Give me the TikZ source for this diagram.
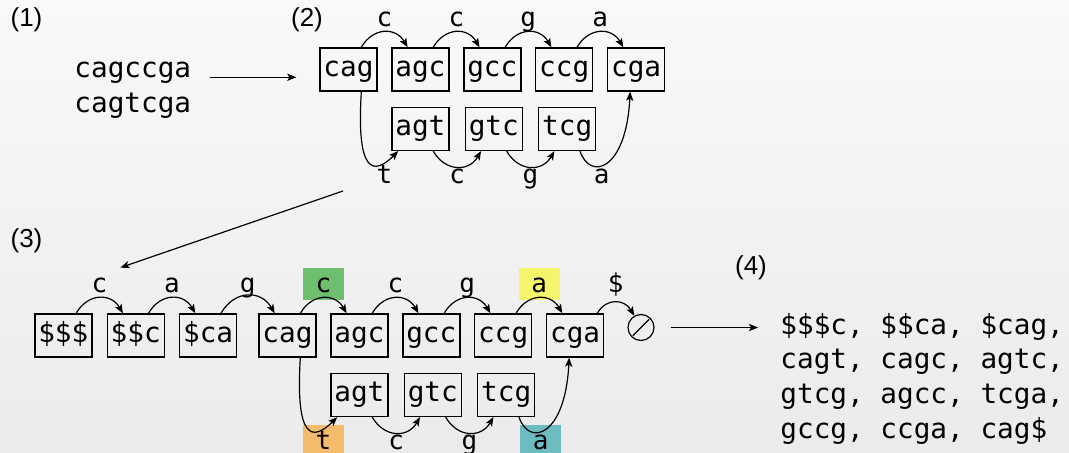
\documentclass[tikz,border=0pt]{standalone}
\usepackage{fontspec}
\setmainfont{Liberation Sans}
\setmonofont{DejaVu Sans Mono}
\usetikzlibrary{positioning,calc,arrows.meta}

\definecolor{bgtop}{HTML}{F9F9F9}
\definecolor{bgbot}{HTML}{EBEBEB}
\definecolor{hlgreen}{HTML}{6DBF6D}
\definecolor{hlyellow}{HTML}{F5F56C}
\definecolor{hlorange}{HTML}{F5BB6C}
\definecolor{hlteal}{HTML}{6CBCC2}

\newcommand{\kmerfont}{\ttfamily\fontsize{13.85pt}{17.4pt}\selectfont}
\newcommand{\edgefont}{\ttfamily\fontsize{13pt}{15pt}\selectfont}
\newcommand{\stepfont}{\fontsize{13pt}{15pt}\selectfont}

\begin{document}
\begin{tikzpicture}[
		x=0.5pt, y=0.5pt,
		kmer/.style={draw, line width=0.7pt, rectangle, minimum width=28.5pt, minimum height=21.5pt, inner sep=0pt, font=\kmerfont, text height=10.4pt, text depth=3.45pt},
		lbl/.style={minimum width=20.5pt, minimum height=16pt, inner sep=0pt, font=\edgefont, text height=11pt, text depth=2pt},
		seq/.style={font=\kmerfont, align=left, inner sep=0pt},
		tag/.style={font=\stepfont, inner sep=0pt},
		edge/.style={-{Stealth[length=4.5pt, width=3.6pt, inset=1pt]}, line width=0.6pt},
		arcup/.style={out=60, in=120, looseness=1.3},
		arcdown/.style={out=-60, in=-120, looseness=1.3},
	]
	\useasboundingbox (0,0) rectangle (1069,-453);
	\fill[top color=bgtop, bottom color=bgbot] (0,0) rectangle (1069,-453);

	\node[tag] (step1) at (26.5,-20) {(1)};
	\node[tag] (step2) at (307,-20) {(2)};
	\node[tag] (step3) at (26.5,-240.5) {(3)};
	\node[tag] (step4) at (751,-267.5) {(4)};

	% reads
	\node[seq, anchor=base west] (reads) at (74,-112.3) {cagccga\\cagtcga};

	% graph of the reads
	\node[kmer] (cag2) at (348.5,-69.5) {cag};
	\node[kmer, right=6.75pt of cag2] (agc2) {agc};
	\node[kmer, right=6.75pt of agc2] (gcc2) {gcc};
	\node[kmer, right=6.75pt of gcc2] (ccg2) {ccg};
	\node[kmer, right=6.75pt of ccg2] (cga2) {cga};
	\node[kmer, below=7.5pt of agc2] (agt2) {agt};
	\node[kmer, right=7.5pt of agt2] (gtc2) {gtc};
	\node[kmer, right=7.5pt of gtc2] (tcg2) {tcg};

	\node[lbl] (up2a) at ($(cag2)!.5!(agc2)+(0,51.5)$) {c};
	\node[lbl] (up2b) at ($(agc2)!.5!(gcc2)+(0,51.5)$) {c};
	\node[lbl] (up2c) at ($(gcc2)!.5!(ccg2)+(0,51.5)$) {g};
	\node[lbl] (up2d) at ($(ccg2)!.5!(cga2)+(0,51.5)$) {a};
	\node[lbl] (lo2a) at ($(cag2 |- agt2)!.5!(agt2)+(0,-46)$) {t};
	\node[lbl] (lo2b) at ($(agt2)!.5!(gtc2)+(0,-46)$) {c};
	\node[lbl] (lo2c) at ($(gtc2)!.5!(tcg2)+(0,-46)$) {g};
	\node[lbl] (lo2d) at ($(tcg2)!.5!(cga2 |- tcg2)+(0,-46)$) {a};

	\draw[edge, shorten <=9pt, shorten >=11.5pt] ([yshift=17.5pt]reads.base east) -- ([yshift=17.5pt]reads.base east -| cag2.west);

	\draw[edge] (cag2.60) to[arcup] (agc2.120);
	\draw[edge] (agc2.60) to[arcup] (gcc2.120);
	\draw[edge] (gcc2.60) to[arcup] (ccg2.120);
	\draw[edge] (ccg2.60) to[arcup] (cga2.120);
	\draw[edge] (cag2.-60) .. controls +(-4,-64) and +(-32,-32) .. (agt2.-135);
	\draw[edge] (agt2.-60) to[arcdown] (gtc2.-120);
	\draw[edge] (gtc2.-60) to[arcdown] (tcg2.-120);
	\draw[edge] (tcg2.-60) .. controls +(10,-30) and +(-4,-79) .. (cga2.-105);

	% same graph with the padded start and the end
	\node[kmer] (cag3) at (287.5,-335.5) {cag};
	\node[kmer, right=6.75pt of cag3] (agc3) {agc};
	\node[kmer, right=6.75pt of agc3] (gcc3) {gcc};
	\node[kmer, right=6.75pt of gcc3] (ccg3) {ccg};
	\node[kmer, right=6.75pt of ccg3] (cga3) {cga};
	\node[kmer, below=7.5pt of agc3] (agt3) {agt};
	\node[kmer, right=7.5pt of agt3] (gtc3) {gtc};
	\node[kmer, right=7.5pt of gtc3] (tcg3) {tcg};
	\node[kmer, left=10.5pt of cag3] (dca3) {\$ca};
	\node[kmer, left=7pt of dca3] (ddc3) {\$\$c};
	\node[kmer, left=7pt of ddc3] (ddd3) {\$\$\$};
	\node[draw, circle, line width=0.6pt, minimum size=13pt, inner sep=0pt] (nul) at (641,-327.5) {};
	\draw[line width=0.6pt, shorten <=1pt, shorten >=1pt] (nul.-135) -- (nul.45);

	\node[lbl] (up3a) at ($(ddd3)!.5!(ddc3)+(0,51.5)$) {c};
	\node[lbl] (up3b) at ($(ddc3)!.5!(dca3)+(0,51.5)$) {a};
	\node[lbl] (up3c) at ($(dca3)!.5!(cag3)+(0,51.5)$) {g};
	\node[lbl, fill=hlgreen] (up3d) at ($(cag3)!.5!(agc3)+(0,51.5)$) {c};
	\node[lbl] (up3e) at ($(agc3)!.5!(gcc3)+(0,51.5)$) {c};
	\node[lbl] (up3f) at ($(gcc3)!.5!(ccg3)+(0,51.5)$) {g};
	\node[lbl, fill=hlyellow] (up3g) at ($(ccg3)!.5!(cga3)+(0,51.5)$) {a};
	\node[lbl] (up3h) at ($(cga3.45)!.5!(nul.120)+(0,31)$) {\$};
	\node[lbl, fill=hlorange] (lo3a) at ($(cag3 |- agt3)!.5!(agt3)+(0,-46)$) {t};
	\node[lbl] (lo3b) at ($(agt3)!.5!(gtc3)+(0,-46)$) {c};
	\node[lbl] (lo3c) at ($(gtc3)!.5!(tcg3)+(0,-46)$) {g};
	\node[lbl, fill=hlteal] (lo3d) at ($(tcg3)!.5!(cga3 |- tcg3)+(0,-46)$) {a};

	\coordinate (tail) at (343,-191);
	\draw[edge] (tail) -- (up3a.north east);

	\draw[edge] (ddd3.60) to[arcup] (ddc3.120);
	\draw[edge] (ddc3.60) to[arcup] (dca3.120);
	\draw[edge] (dca3.60) to[arcup] (cag3.120);
	\draw[edge] (cag3.60) to[arcup] (agc3.120);
	\draw[edge] (agc3.60) to[arcup] (gcc3.120);
	\draw[edge] (gcc3.60) to[arcup] (ccg3.120);
	\draw[edge] (ccg3.60) to[arcup] (cga3.120);
	\draw[edge] (cga3.45) to[arcup] (nul.120);
	\draw[edge] (cag3.-60) .. controls +(-4,-64) and +(-32,-32) .. (agt3.-135);
	\draw[edge] (agt3.-60) to[arcdown] (gtc3.-120);
	\draw[edge] (gtc3.-60) to[arcdown] (tcg3.-120);
	\draw[edge] (tcg3.-60) .. controls +(10,-30) and +(-4,-79) .. (cga3.-105);

	% k-mers read off the paths
	\node[seq, anchor=base west] (kmers) at (780,-438.5) {\$\$\$c, \$\$ca, \$cag,\\cagt, cagc, agtc,\\gtcg, agcc, tcga,\\gccg, ccga, cag\$};
	\draw[edge, shorten <=8pt, shorten >=11pt] (nul.east) -- (nul.east -| kmers.west);
\end{tikzpicture}
\end{document}
